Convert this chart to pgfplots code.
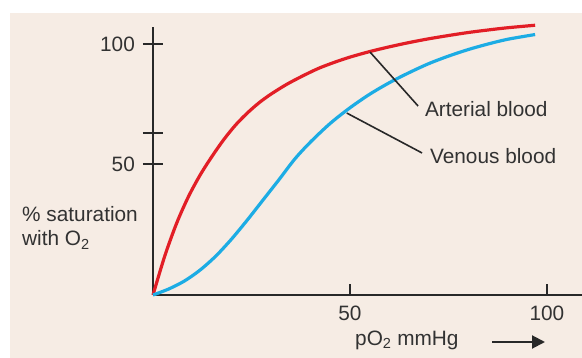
\documentclass[border=0pt]{standalone}
\usepackage{fontspec}
\setmainfont{Liberation Sans}
\usepackage{pgfplots}
\pgfplotsset{compat=1.18}
\usetikzlibrary{arrows.meta}
\definecolor{bg}{RGB}{246,236,228}
\definecolor{artred}{RGB}{226,30,38}
\definecolor{venblue}{RGB}{28,172,228}
\definecolor{axgray}{RGB}{40,40,40}
\definecolor{txtgray}{RGB}{50,50,50}
\begin{document}
\fontsize{20.8}{24}\selectfont
\begin{tikzpicture}
\fill[white] (0pt,0pt) rectangle (582pt,-358pt);
\fill[bg] (10pt,-13pt) rectangle (582pt,-358pt);
\useasboundingbox (0pt,0pt) rectangle (582pt,-358pt);
\begin{axis}[
  at={(153pt,-295pt)}, anchor=south west,
  scale only axis, width=429pt, height=268pt,
  xmin=0, xmax=108.9, ymin=0, ymax=106.8,
  axis lines=left,
  axis line style={-, line width=2.6pt, draw=axgray},
  xtick={50,100}, xticklabels={50,100},
  minor xtick={50,100},
  ytick={52.2,64.5,100}, yticklabels={50,,100},
  xtick align=inside, ytick align=center,
  major tick length=20pt, minor tick length=11pt,
  major x tick style={draw=none},
  minor x tick style={line width=2.2pt, draw=axgray},
  major y tick style={line width=2.2pt, draw=axgray},
  xticklabel style={font=\fontsize{20.8}{24}\selectfont, text=txtgray, yshift=-4pt},
  yticklabel style={font=\fontsize{20.8}{24}\selectfont, text=txtgray, xshift=-1pt},
  clip=false,
]
\addplot[artred, line width=3.2pt, smooth] coordinates {
(0,0) (3,15.6) (6,28.6) (9,39.2) (12,47.9) (15,55.3) (18,62.0) (21,67.8) (24,72.6) (27,76.7) (30,80.1) (34,84.0) (38,87.3) (42,90.3) (46,92.7) (50,94.8) (55,97.0) (60,98.9) (65,100.6) (70,102.1) (75,103.4) (80,104.6) (85,105.6) (90,106.5) (97,107.5)};
\addplot[venblue, line width=3.2pt, smooth] coordinates {
(0,0) (4,2.4) (8,5.6) (12,10.0) (16,15.6) (20,22.4) (24,30.0) (28,38.0) (32,46.0) (36,54.2) (40,61.0) (45,68.4) (50,74.6) (55,80.0) (60,84.6) (65,88.6) (70,92.2) (75,95.2) (80,97.8) (85,100.0) (90,101.9) (97,103.8)};
\draw[axgray, line width=1.6pt] (axis cs:55.1,96.8) -- (axis cs:67.3,75.3);
\draw[axgray, line width=1.6pt] (axis cs:49.2,72.5) -- (axis cs:68.3,56.6);
\node[anchor=west, inner sep=0pt, text=txtgray] at (axis cs:69.0,74.1) {Arterial blood};
\node[anchor=west, inner sep=0pt, text=txtgray] at (axis cs:70.3,55.4) {Venous blood};
\end{axis}
\node[anchor=west, align=left, inner sep=0pt, text=txtgray] at (22pt,-228pt) {\% saturation\\with O\textsubscript{2}};
\node[anchor=west, inner sep=0pt, text=txtgray] at (355pt,-340pt) {pO\textsubscript{2} mmHg};
\draw[axgray, line width=2pt, -{Stealth[length=13pt, width=13pt, inset=0pt]}] (492pt,-342pt) -- (545pt,-342pt);
\end{tikzpicture}
\end{document}
